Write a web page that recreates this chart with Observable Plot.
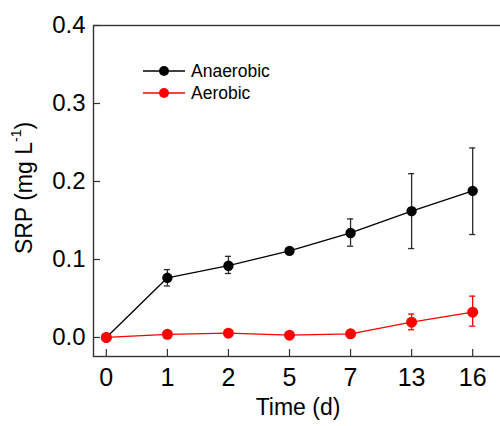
<!DOCTYPE html>
<html>
<head>
<meta charset="utf-8">
<script src="https://cdn.jsdelivr.net/npm/d3@7"></script>
<script src="https://cdn.jsdelivr.net/npm/@observablehq/plot@0.6"></script>
<style>
  html, body { margin: 0; padding: 0; background: #fff; }
  #chart { width: 500px; height: 426px; }
</style>
</head>
<body>
<div id="chart"></div>
<script>
// ---- data ----
const days = ["0", "1", "2", "5", "7", "13", "16"];
const yTicks = [0, 0.1, 0.2, 0.3, 0.4];
const seriesNames = ["Anaerobic", "Aerobic"];

const anaerobicMean = [0, 0.0765, 0.092, 0.111, 0.134, 0.162, 0.188];
const anaerobicLow  = [0, 0.066, 0.082, 0.108, 0.117, 0.114, 0.132];
const anaerobicHigh = [0, 0.087, 0.104, 0.114, 0.152, 0.210, 0.243];

const aerobicMean = [0, 0.004, 0.0055, 0.003, 0.0047, 0.0196, 0.0324];
const aerobicLow  = [0, 0.003, 0.004, 0.002, 0.0035, 0.0099, 0.0145];
const aerobicHigh = [0, 0.005, 0.007, 0.004, 0.006, 0.030, 0.053];

const anaerobic = days.map((d, i) => ({day: d, mean: anaerobicMean[i], low: anaerobicLow[i], high: anaerobicHigh[i]}));
const aerobic = days.map((d, i) => ({day: d, mean: aerobicMean[i], low: aerobicLow[i], high: aerobicHigh[i]}));

const BLACK = "#000000";
const BAR_BLACK = "#2b2b2b";
const RED = "#ff0000";

function seriesMarks(data, color, barColor, r) {
  return [
    Plot.line(data, {x: "day", y: "mean", stroke: color, strokeWidth: 1.3}),
    Plot.ruleX(data, {x: "day", y1: "low", y2: "high", stroke: barColor, strokeWidth: 1.3}),
    Plot.tickY(data, {x: "day", y: "low", stroke: barColor, strokeWidth: 1.3}),
    Plot.tickY(data, {x: "day", y: "high", stroke: barColor, strokeWidth: 1.3}),
    Plot.dot(data, {x: "day", y: "mean", fill: color, stroke: "none", r: r})
  ];
}

const plot = Plot.plot({
  width: 500,
  height: 426,
  marginLeft: 93,
  marginRight: -2,
  marginTop: 25,
  marginBottom: 70,
  style: {fontFamily: "'Liberation Sans', Arial, sans-serif", background: "#fff", color: "#000"},
  x: {type: "band", domain: days, paddingInner: 0.9, paddingOuter: 0.16, insetRight: 17, round: false},
  y: {domain: [-0.0244, 0.4], ticks: yTicks},
  marks: [
    // tick labels
    Plot.axisY(yTicks, {tickSize: 0, tickPadding: 8, tickFormat: d3.format(".1f"), fontSize: 24, label: null}),
    Plot.axisX(days, {tickSize: 0, tickPadding: 12, fontSize: 25, label: null}),
    // inward tick marks
    Plot.axisY(yTicks, {tickSize: 7, dx: 7, tickFormat: () => "", label: null, stroke: "#333", strokeWidth: 1.2}),
    Plot.axisX(days, {tickSize: 7, dy: -7, tickFormat: () => "", label: null, stroke: "#333", strokeWidth: 1.2}),
    Plot.frame({stroke: "#333", strokeWidth: 1.4}),
    Plot.text(["Time (d)"], {frameAnchor: "bottom", dy: 58, fontSize: 23, fill: "#000"}),
    ...seriesMarks(anaerobic, BLACK, BAR_BLACK, 5.2),
    ...seriesMarks(aerobic, RED, RED, 5.5)
  ]
});

document.getElementById("chart").appendChild(plot);

// y-axis title with superscript
const svg = d3.select(plot);
const yTitle = svg.append("text")
  .attr("transform", "translate(24,188) rotate(-90)")
  .attr("text-anchor", "middle")
  .attr("dominant-baseline", "central")
  .attr("font-size", 23)
  .attr("fill", "#000");
yTitle.append("tspan").text("SRP (mg L");
yTitle.append("tspan").attr("baseline-shift", "super").attr("font-size", 14).text("-1");
yTitle.append("tspan").text(")");

// legend
const legendItems = [
  {name: seriesNames[0], color: BLACK, y: 71, r: 5},
  {name: seriesNames[1], color: RED, y: 93, r: 5}
];
const lg = svg.append("g").attr("text-anchor", "start");
legendItems.forEach(it => {
  lg.append("line").attr("x1", 143).attr("x2", 185).attr("y1", it.y).attr("y2", it.y)
    .attr("stroke", it.color).attr("stroke-width", 1.3);
  lg.append("circle").attr("cx", 164).attr("cy", it.y).attr("r", it.r).attr("fill", it.color);
  lg.append("text").attr("x", 191).attr("y", it.y).attr("dominant-baseline", "central")
    .attr("text-anchor", "start")
    .attr("font-size", 17.5).attr("fill", "#000").text(it.name);
});
</script>
</body>
</html>
